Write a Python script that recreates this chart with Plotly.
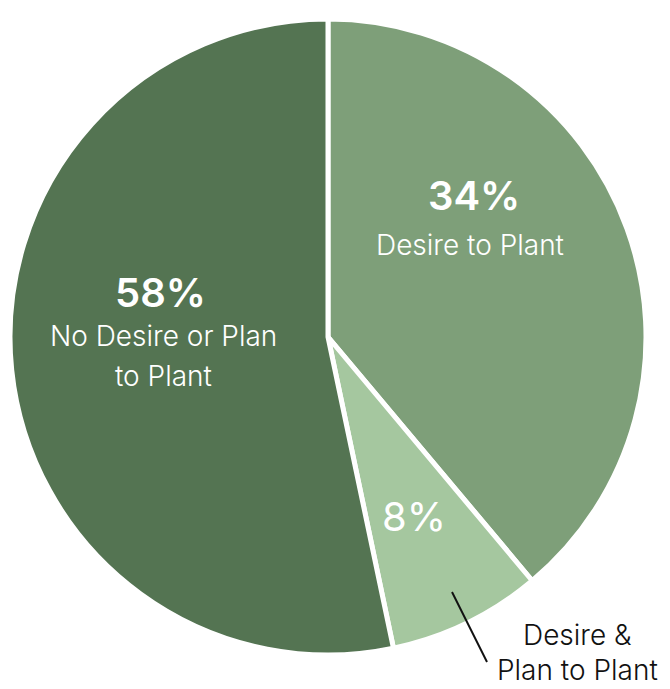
import plotly.graph_objects as go

# Data
categories = ["Desire to Plant", "Desire & Plan to Plant", "No Desire or Plan to Plant"]
pct_labels = ["34%", "8%", "58%"]
slice_values = [38.9, 7.8, 53.3]   # angular shares as drawn in the reference
colors = ["#7e9f79", "#a5c79f", "#547452"]

W, H = 670, 689
OFF = 8  # page body margin

def px(x, y):
    return (x - OFF) / W, 1 - (y - OFF) / H

dx0, dy1 = px(10, 18)
dx1, dy0 = px(646, 656)

fig = go.Figure(go.Pie(
    labels=categories,
    values=slice_values,
    sort=False,
    direction="clockwise",
    rotation=0,
    textinfo="none",
    hoverinfo="label",
    marker=dict(colors=colors, line=dict(color="white", width=5)),
    domain=dict(x=[dx0, dx1], y=[dy0, dy1]),
    showlegend=False,
))

FONT = "Inter"
ann = []

def add(text, x, y, size, color="white", weight=400, pad=1):
    ax, ay = px(x, y)
    ann.append(dict(text=text, x=ax, y=ay, xref="paper", yref="paper",
                    xanchor="center", yanchor="middle", showarrow=False, borderpad=pad,
                    font=dict(family=FONT, size=size, color=color, weight=weight)))

BODY = 28
add(pct_labels[0], 474, 195, 40, weight=600)
add("Desire to Plant", 470, 245, BODY, weight=300)
add(pct_labels[2], 160, 292, 40, weight=600)
add("No Desire or Plan", 163, 336, BODY, weight=300)
add("to Plant", 163, 376, BODY, weight=300)
add(pct_labels[1], 414, 516, 40, weight=400)
add("Desire &", 577, 635, BODY, color="#111111", weight=300, pad=0)
add("Plan to Plant", 577, 670, BODY, color="#111111", weight=300, pad=0)

x0, y0 = px(452, 592)
x1, y1 = px(487, 662)
fig.add_shape(type="line", xref="paper", yref="paper", x0=x0, y0=y0, x1=x1, y1=y1,
              line=dict(color="#111111", width=2))

fig.update_layout(width=W, height=H, margin=dict(l=0, r=0, t=0, b=0),
                  paper_bgcolor="white", plot_bgcolor="white", annotations=ann)

fig.write_html("out.html")
